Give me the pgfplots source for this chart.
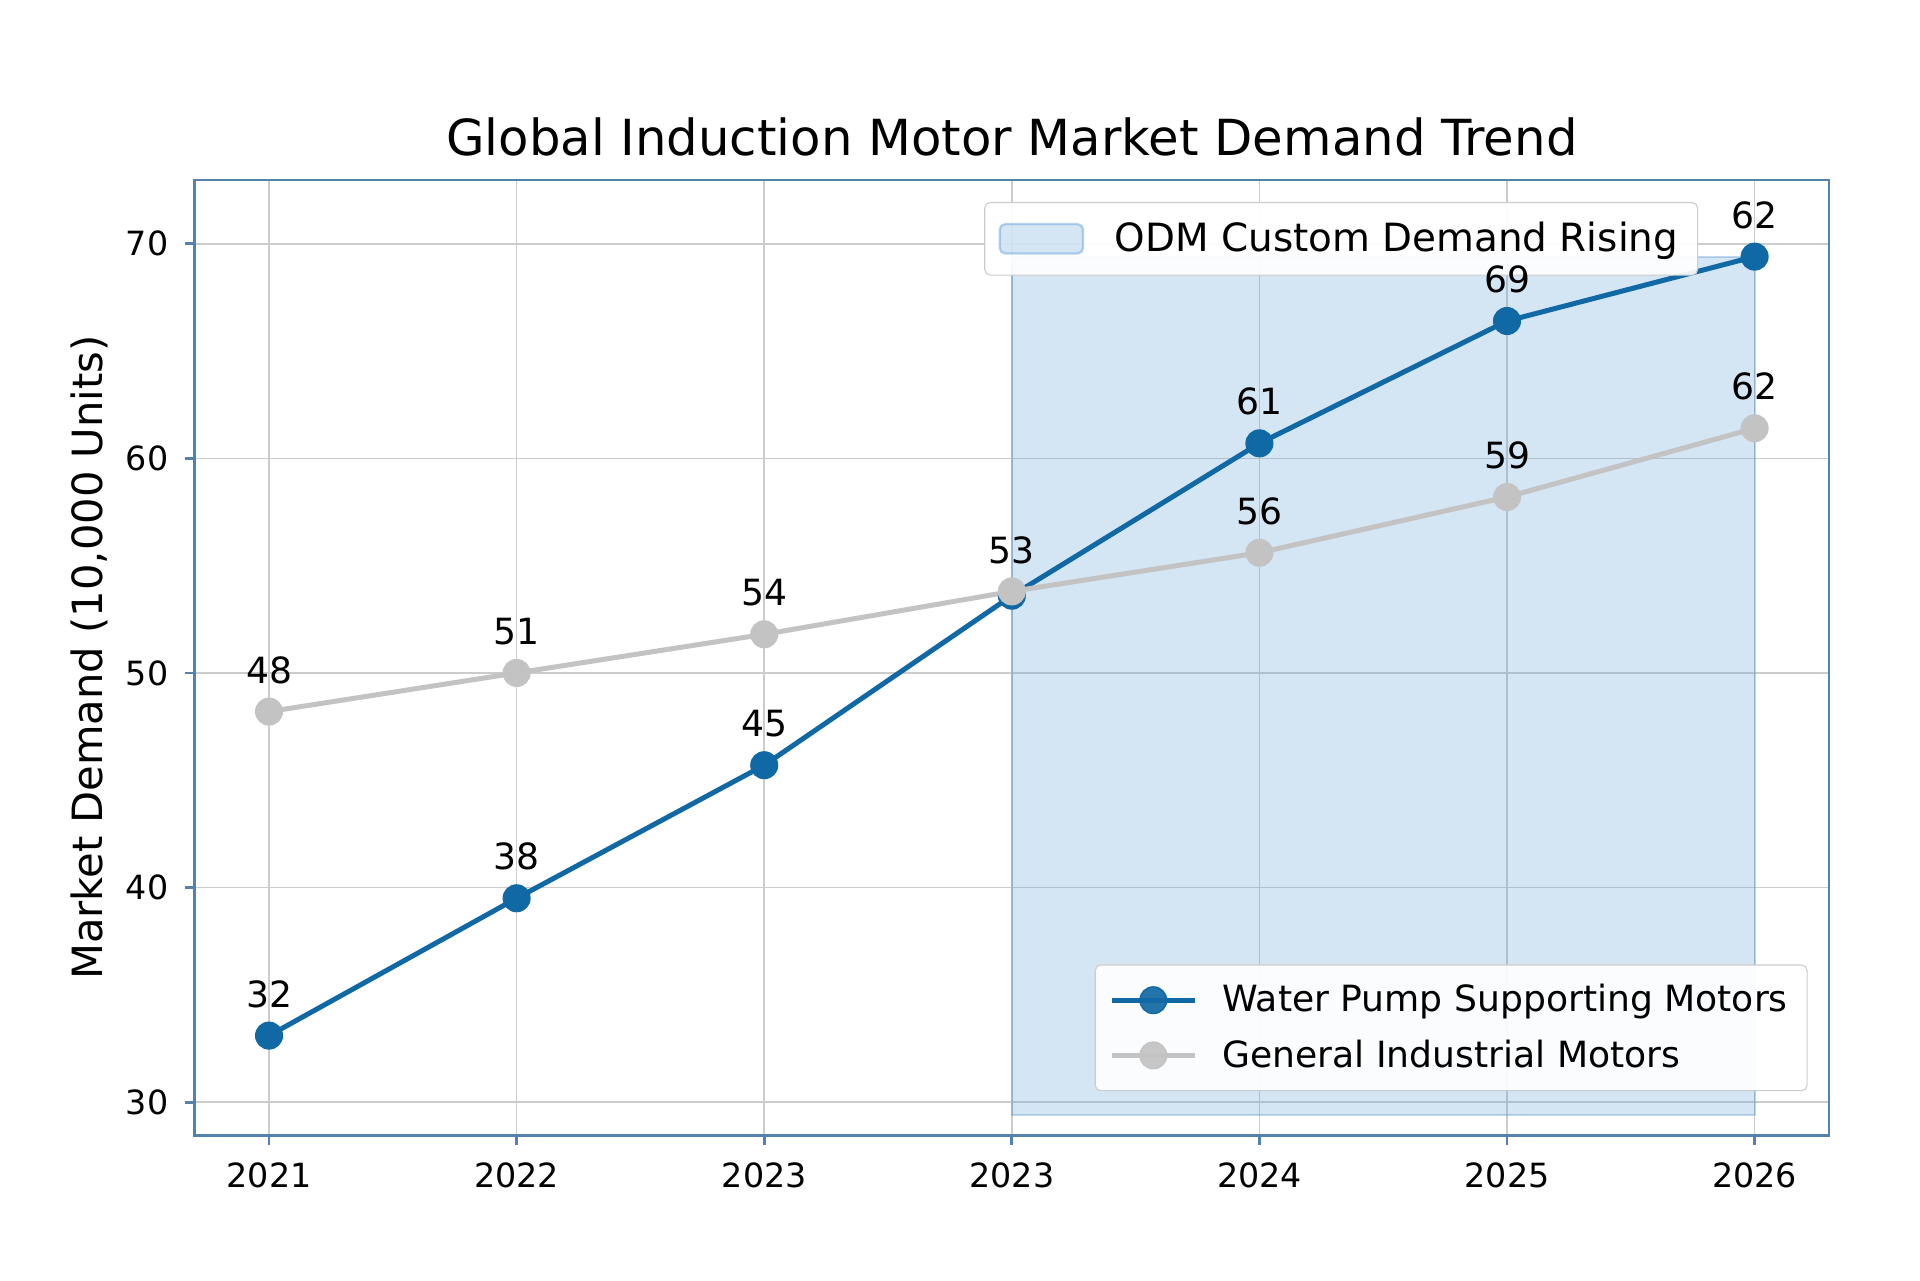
\documentclass[border=0pt]{standalone}
\usepackage{pgfplots}
\pgfplotsset{compat=1.18}
\usepackage{pgfplotstable}
\usepackage{fontspec}
\setmainfont{DejaVu Sans}
\definecolor{pumpblue}{RGB}{16,104,164}
\definecolor{gengray}{RGB}{195,195,195}
\definecolor{framecol}{RGB}{84,130,172}
\definecolor{shadecol}{RGB}{95,158,215}
\definecolor{gridcol}{RGB}{204,204,204}

\pgfplotstableread{
x y lab
0 33.1 32
1 39.5 38
2 45.7 45
3 53.6 {}
4 60.7 61
5 66.4 69
6 69.4 62
}\pumpdata

\pgfplotstableread{
x y lab
0 48.2 48
1 50.0 51
2 51.8 54
3 53.8 53
4 55.6 56
5 58.2 59
6 61.4 62
}\gendata

\pgfplotstableread{
x y
3 29.4
6 29.4
6 69.4
3 69.4
}\shadedata

\pgfplotsset{
  mylinelegend/.style={legend image code/.code={\draw[mark repeat=2,mark phase=2,##1] plot coordinates {(0pt,0pt) (15pt,0pt) (30pt,0pt)};}},
  myarealegend/.style={legend image code/.code={\draw[##1] (0pt,-5.3pt) rectangle (30pt,5.3pt);}},
  base/.style={
    scale only axis, width=588.2pt, height=343.8pt,
    xmin=-0.3, xmax=6.3, ymin=28.46, ymax=72.97,
  },
  mylegend/.style={
    legend cell align=left,
    legend style={draw=black!20, rounded corners=2pt, fill=white, fill opacity=0.92, text opacity=1,
      font=\fontsize{13}{15}\selectfont, inner xsep=5pt, inner ysep=4pt,
      /tikz/column sep=7pt},
  },
  labelplot/.style={draw=none, mark=none,
    nodes near coords, point meta=explicit symbolic,
    every node near coord/.append style={font=\fontsize{13}{15}\selectfont, text=black, anchor=south, yshift=6.5pt}},
}

\begin{document}
\begin{tikzpicture}
\begin{axis}[base, name=main,
  mylegend,
  legend style={at={(0.987,0.046)}, anchor=south east, row sep=4.5pt, inner ysep=5pt},
  grid=major, grid style={gridcol, line width=0.6pt},
  axis line style={framecol, line width=1pt},
  major tick style={framecol, line width=1pt},
  major tick length=3.5pt, tick align=outside, tick pos=left,
  xtick={0,1,2,3,4,5,6},
  xticklabels={2021,2022,2023,2023,2024,2025,2026},
  ytick={30,40,50,60,70},
  /pgf/number format/assume math mode=true,
  ticklabel style={font=\fontsize{12}{14}\selectfont},
  xticklabel style={yshift=-3pt},
  yticklabel style={xshift=-2.5pt},
  ylabel={Market Demand (10,000 Units)},
  every axis y label/.style={at={(axis description cs:-0.0644,0.5)}, rotate=90, anchor=center, font=\fontsize{15}{17}\selectfont},
  title={Global Induction Motor Market Demand Trend},
  every axis title/.style={at={(axis description cs:0.5,1.0448)}, anchor=center, font=\fontsize{17.9}{20}\selectfont},
]
\addplot[fill=shadecol, fill opacity=0.27, draw=shadecol, draw opacity=0.4, line width=0.8pt, forget plot]
  table[x=x, y=y] {\shadedata} -- cycle;
\addplot[pumpblue, line width=1.8pt, mark=*, mark size=4.8pt, mark options={fill=pumpblue, draw=pumpblue, line width=0.5pt},
  mylinelegend]
  table[x=x, y=y] {\pumpdata};
\addlegendentry{Water Pump Supporting Motors}
\addplot[gengray, line width=1.8pt, mark=*, mark size=4.8pt, mark options={fill=gengray, draw=gengray, line width=0.5pt},
  mylinelegend]
  table[x=x, y=y] {\gendata};
\addlegendentry{General Industrial Motors}
\end{axis}
\begin{axis}[base, hide axis, mylegend,
  legend style={at={(0.92,0.977)}, anchor=north east, inner ysep=5pt, font=\fontsize{14}{16}\selectfont, /tikz/column sep=9pt}]
\addlegendimage{myarealegend, fill=shadecol, fill opacity=0.27, draw=shadecol, draw opacity=0.45, line width=0.8pt}
\addlegendentry{ODM Custom Demand Rising}
\end{axis}
\begin{axis}[base, hide axis]
\addplot[labelplot] table[x=x, y=y, meta=lab] {\pumpdata};
\addplot[labelplot] table[x=x, y=y, meta=lab] {\gendata};
\end{axis}
\path ([shift={(-70.1pt,-52.2pt)}]main.south west) rectangle ([shift={(32.8pt,64.8pt)}]main.north east);
\end{tikzpicture}
\end{document}
